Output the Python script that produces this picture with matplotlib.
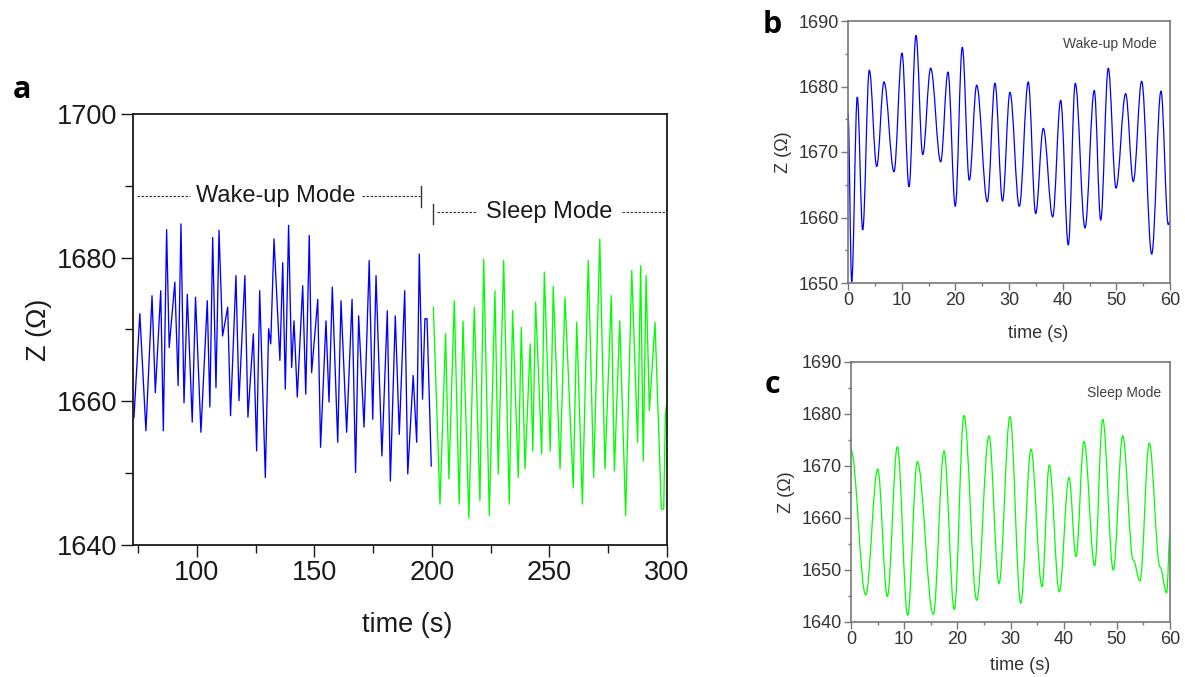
import matplotlib
matplotlib.use("Agg")
import matplotlib.pyplot as plt
from matplotlib.path import Path
from matplotlib.patches import PathPatch
from matplotlib.ticker import MultipleLocator

plt.rcParams['font.family'] = ['Liberation Sans', 'DejaVu Sans']

# ---------------- data (extrema of the traces) ----------------
# panel a, wake-up segment (blue)
a_wake_t = [73.2, 75.7, 78.3, 80.9, 82.3, 84.6, 85.7, 87.1, 88.2, 90.6, 92.0, 93.2, 94.5, 95.9,
            98.0, 99.4, 101.7, 104.4, 105.5, 106.7, 108.1, 109.4, 110.9, 113.1, 114.3, 116.6,
            117.9, 120.4, 121.7, 124.0, 125.4, 126.7, 129.1, 130.5, 131.4, 132.8, 135.3, 136.5,
            137.6, 139.0, 140.3, 141.3, 142.7, 145.0, 146.3, 147.8, 148.8, 151.4, 152.6, 154.9,
            156.2, 157.6, 159.9, 161.3, 163.7, 166.0, 167.5, 168.8, 171.1, 173.3, 174.8, 176.2,
            178.7, 181.0, 182.3, 184.4, 186.1, 188.4, 189.7, 192.0, 193.5, 194.6, 196.0, 197.0,
            197.9, 199.7]
a_wake_z = [1657.7, 1672.2, 1655.9, 1674.7, 1661.2, 1675.4, 1655.9, 1683.9, 1667.5, 1676.6,
            1662.2, 1684.7, 1659.8, 1674.9, 1657.1, 1674.5, 1655.7, 1674.0, 1659.2, 1682.8,
            1661.9, 1683.8, 1669.1, 1673.1, 1658.0, 1677.5, 1660.1, 1677.5, 1657.8, 1669.4,
            1653.1, 1675.4, 1649.4, 1670.1, 1668.0, 1682.6, 1665.7, 1679.3, 1661.7, 1684.5,
            1664.7, 1671.2, 1660.6, 1676.1, 1661.0, 1683.1, 1664.0, 1674.2, 1653.6, 1671.2,
            1659.9, 1675.9, 1654.3, 1674.0, 1655.7, 1674.2, 1650.1, 1671.9, 1656.4, 1679.6,
            1657.5, 1677.5, 1652.4, 1672.6, 1648.9, 1671.9, 1655.4, 1675.4, 1649.9, 1663.6,
            1654.3, 1680.5, 1660.3, 1671.5, 1671.5, 1651.0]

# panel a, sleep segment (green)
a_sleep_t = [200.6, 203.4, 205.8, 207.2, 209.5, 211.6, 213.2, 215.7, 218.0, 220.4, 222.0, 224.4,
             226.8, 228.2, 230.5, 232.9, 234.3, 236.7, 238.0, 239.6, 241.8, 242.9, 244.1, 246.7,
             247.8, 250.3, 251.6, 254.5, 256.6, 260.1, 261.6, 264.0, 266.5, 268.8, 271.4, 273.6,
             276.3, 277.6, 279.9, 282.4, 285.0, 287.5, 288.8, 289.9, 291.1, 292.5, 294.9, 297.6,
             298.6, 299.3, 300.0]
a_sleep_z = [1673.1, 1645.7, 1669.4, 1649.2, 1674.0, 1645.7, 1671.2, 1643.8, 1673.1, 1646.2,
             1679.8, 1644.1, 1675.4, 1649.9, 1679.6, 1645.7, 1672.6, 1649.4, 1670.3, 1650.6,
             1668.0, 1653.1, 1673.8, 1652.7, 1678.0, 1653.1, 1676.0, 1650.6, 1674.5, 1648.0,
             1671.0, 1645.7, 1679.6, 1649.4, 1682.6, 1650.6, 1674.7, 1650.3, 1671.2, 1644.1,
             1678.2, 1654.3, 1678.9, 1651.7, 1677.5, 1658.7, 1671.0, 1645.0, 1645.0, 1658.0,
             1660.0]

# panel b, wake-up mode (blue)
b_t = [0.0, 0.69, 1.73, 2.74, 3.97, 5.35, 6.71, 8.57, 10.06, 11.37, 12.67, 13.92, 15.41, 17.27,
       18.63, 19.99, 21.30, 22.60, 23.98, 25.96, 27.39, 28.79, 30.18, 31.92, 33.59, 34.97, 36.39,
       38.14, 39.63, 41.05, 42.35, 44.16, 45.89, 47.09, 48.50, 49.94, 51.74, 53.16, 54.72, 56.59,
       58.32, 59.68, 60.0]
b_z = [1676.0, 1650.2, 1678.4, 1658.1, 1682.5, 1667.8, 1680.7, 1667.0, 1685.1, 1664.7, 1687.8,
       1669.6, 1682.8, 1668.5, 1682.2, 1661.7, 1686.0, 1665.7, 1680.2, 1662.4, 1680.5, 1662.5,
       1679.1, 1661.7, 1680.7, 1660.6, 1673.6, 1660.1, 1677.9, 1655.8, 1680.5, 1658.4, 1679.4,
       1659.6, 1682.8, 1664.5, 1678.9, 1665.5, 1680.8, 1654.4, 1679.3, 1658.9, 1659.4]

# panel c, sleep mode (green)
c_t = [0.0, 2.76, 5.02, 6.83, 8.71, 10.66, 12.47, 15.48, 17.49, 19.43, 21.25, 23.64, 25.95,
       27.84, 29.90, 31.92, 33.85, 35.92, 37.29, 39.18, 41.00, 42.32, 43.82, 45.83, 47.34, 49.33,
       51.10, 53.09, 54.35, 56.10, 58.11, 59.37, 60.0]
c_z = [1673.1, 1645.2, 1669.4, 1644.9, 1673.7, 1641.3, 1670.8, 1641.5, 1672.9, 1642.4, 1679.7,
       1644.2, 1675.8, 1647.4, 1679.5, 1643.6, 1673.2, 1646.8, 1670.2, 1645.8, 1667.8, 1652.6,
       1674.7, 1650.8, 1679.0, 1650.0, 1675.8, 1651.9, 1647.9, 1674.4, 1650.6, 1645.6, 1657.0]

a_xticks = [100, 150, 200, 250, 300]
a_yticks = [1640, 1660, 1680, 1700]
bc_xticks = [0, 10, 20, 30, 40, 50, 60]
b_yticks = [1650, 1660, 1670, 1680, 1690]
c_yticks = [1640, 1650, 1660, 1670, 1680, 1690]

BLUE = '#0000ff'
GREEN = '#00ff00'


def smooth_path(t, y, k=0.363):
    verts = [(t[0], y[0])]
    codes = [Path.MOVETO]
    for i in range(len(t) - 1):
        dt = t[i + 1] - t[i]
        verts += [(t[i] + k * dt, y[i]), (t[i + 1] - k * dt, y[i + 1]), (t[i + 1], y[i + 1])]
        codes += [Path.CURVE4] * 3
    return Path(verts, codes)


fig = plt.figure(figsize=(11.85, 6.77), dpi=100)
W, H = 1185, 677


def add_ax(l, r, t, b):
    return fig.add_axes([l / W, 1 - b / H, (r - l) / W, (b - t) / H])


# ---------------- panel a ----------------
axa = add_ax(133, 667, 114, 545)
axa.plot(a_wake_t, a_wake_z, color=BLUE, lw=0.95)
axa.plot(a_sleep_t, a_sleep_z, color=GREEN, lw=0.95)
axa.set_xlim(72.8, 300)
axa.set_ylim(1640, 1700)
axa.set_xticks(a_xticks)
axa.set_yticks(a_yticks)
axa.xaxis.set_minor_locator(MultipleLocator(25))
axa.yaxis.set_minor_locator(MultipleLocator(10))
axa.tick_params(which='major', direction='out', length=8.5, width=1.0, labelsize=19.5,
                pad=2.5, colors='#1a1a1a')
axa.tick_params(which='minor', direction='out', length=6, width=1.0, colors='#1a1a1a')
for s in axa.spines.values():
    s.set_linewidth(1.3)
    s.set_color('#1a1a1a')
axa.set_xlabel('time (s)', fontsize=19.5, color='#1a1a1a')
axa.xaxis.set_label_coords(0.513, -0.155)
axa.set_ylabel('Z (Ω)', fontsize=19.5, color='#1a1a1a')
axa.yaxis.set_label_coords(-0.152, 0.5)

# annotations on panel a
dash = dict(color='#333333', lw=0.8, linestyle=(0, (2.2, 1.4)))
axa.plot([74.5, 97.0], [1688.6, 1688.6], **dash)
axa.plot([170.2, 194.9], [1688.6, 1688.6], **dash)
axa.plot([195.3, 195.3], [1687.1, 1690.0], color='#333333', lw=1.0)
axa.text(133.5, 1688.6, 'Wake-up Mode', fontsize=17, ha='center', va='center', color='#1a1a1a')
axa.plot([200.4, 200.4], [1684.7, 1687.5], color='#333333', lw=1.0)
axa.plot([202.1, 219.1], [1686.4, 1686.4], **dash)
axa.plot([280.9, 299.5], [1686.4, 1686.4], **dash)
axa.text(250.0, 1686.4, 'Sleep Mode', fontsize=17, ha='center', va='center', color='#1a1a1a')

fig.text(22 / W, 1 - 90 / H, 'a', fontsize=22, fontweight='bold', family='Open Sans',
         ha='center', va='center')


def style_small(ax, yticks, ylim):
    ax.set_xlim(0, 60)
    ax.set_ylim(*ylim)
    ax.set_xticks(bc_xticks)
    ax.set_yticks(yticks)
    ax.xaxis.set_minor_locator(MultipleLocator(5))
    ax.yaxis.set_minor_locator(MultipleLocator(5))
    ax.tick_params(which='major', direction='out', length=5, width=1.0, labelsize=13,
                   pad=1.5, color='#777777', labelcolor='#333333')
    ax.tick_params(which='minor', direction='out', length=2.5, width=1.0, color='#777777')
    for s in ax.spines.values():
        s.set_linewidth(1.2)
        s.set_color('#777777')
    ax.set_ylabel('Z (Ω)', fontsize=13, color='#333333', labelpad=5)


# ---------------- panel b ----------------
axb = add_ax(848, 1170, 21, 283)
axb.add_patch(PathPatch(smooth_path(b_t, b_z), fill=False, edgecolor=BLUE, lw=0.9))
style_small(axb, b_yticks, (1650, 1690))
axb.set_xlabel('time (s)', fontsize=13, color='#333333')
axb.xaxis.set_label_coords(0.592, -0.16)
axb.text(0.814, 0.912, 'Wake-up Mode', transform=axb.transAxes, fontsize=10,
         ha='center', va='center', color='#404040')
fig.text(772 / W, 1 - 25 / H, 'b', fontsize=22, fontweight='bold', family='Open Sans',
         ha='center', va='center')

# ---------------- panel c ----------------
axc = add_ax(851, 1170, 362, 622)
axc.add_patch(PathPatch(smooth_path(c_t, c_z), fill=False, edgecolor=GREEN, lw=0.9))
style_small(axc, c_yticks, (1640, 1690))
axc.set_xlabel('time (s)', fontsize=13, color='#333333')
axc.xaxis.set_label_coords(0.53, -0.135)
axc.text(0.857, 0.88, 'Sleep Mode', transform=axc.transAxes, fontsize=10,
         ha='center', va='center', color='#404040')
fig.text(772 / W, 1 - 385 / H, 'c', fontsize=22, fontweight='bold', family='Open Sans',
         ha='center', va='center')

fig.savefig('out.png', dpi=100)
